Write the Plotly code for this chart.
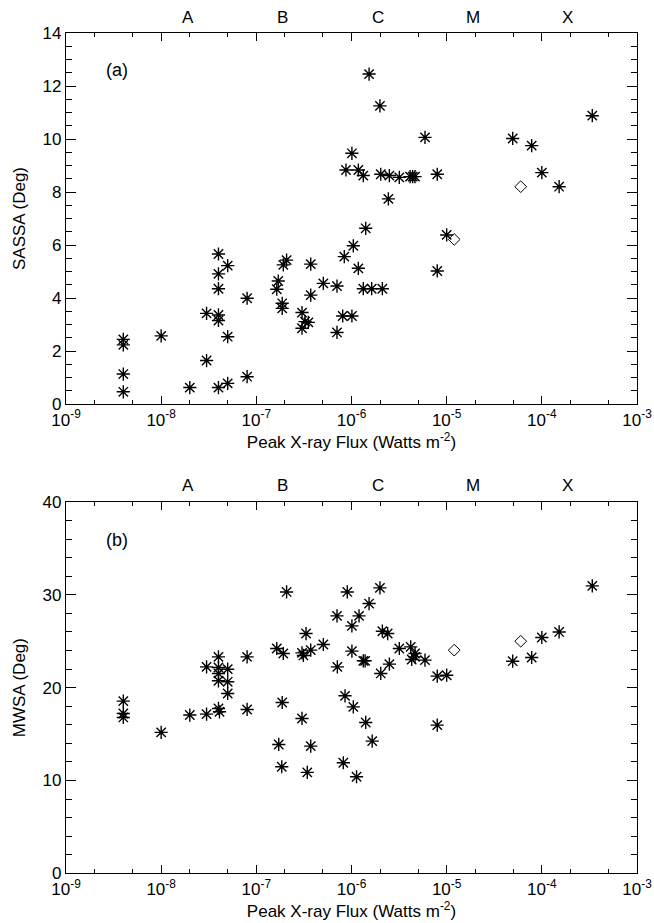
import math
import plotly.graph_objects as go

# ---------------- data ----------------
# Panel (a): SASSA vs peak X-ray flux
sassa_flux = [4e-9, 4e-9, 4e-9, 4e-9, 1e-8, 2e-8, 3e-8, 3e-8, 4e-8, 4e-8,
              4e-8, 4e-8, 4e-8, 4e-8, 5e-8, 5e-8, 5e-8, 8e-8, 8e-8, 1.64e-7,
              1.70e-7, 1.87e-7, 1.87e-7, 1.92e-7, 2.08e-7, 3.02e-7, 3.02e-7, 3.25e-7, 3.52e-7, 3.73e-7,
              3.73e-7, 5.06e-7, 7.04e-7, 7.04e-7, 8.08e-7, 8.4e-7, 8.75e-7, 1.01e-6, 1.01e-6, 1.045e-6,
              1.18e-6, 1.18e-6, 1.33e-6, 1.33e-6, 1.41e-6, 1.53e-6, 1.63e-6, 1.99e-6, 2.03e-6, 2.11e-6,
              2.44e-6, 2.5e-6, 3.18e-6, 4.12e-6, 4.39e-6, 4.65e-6, 5.92e-6, 7.96e-6, 7.96e-6, 1.0e-5,
              4.94e-5, 7.82e-5, 1.0e-4, 1.52e-4, 3.39e-4]
sassa_deg = [2.44, 2.23, 1.13, 0.46, 2.57, 0.62, 1.64, 3.42, 0.62, 3.36,
             3.15, 4.35, 4.91, 5.66, 0.78, 2.54, 5.22, 1.03, 3.99, 4.33,
             4.64, 3.80, 3.61, 5.25, 5.43, 3.45, 2.86, 3.11, 3.08, 5.28,
             4.11, 4.55, 4.45, 2.70, 3.32, 5.56, 8.83, 9.46, 3.32, 5.97,
             8.83, 5.12, 8.62, 4.35, 6.63, 12.45, 4.35, 11.25, 8.67, 4.35,
             7.74, 8.62, 8.55, 8.58, 8.58, 8.58, 10.06, 8.67, 5.02, 6.38,
             10.02, 9.75, 8.73, 8.20, 10.88]
sassa_open_flux = [1.2e-5, 6.0e-5]
sassa_open_deg = [6.21, 8.20]

# Panel (b): MWSA vs peak X-ray flux
mwsa_flux = [4e-9, 4e-9, 4e-9, 1e-8, 2e-8, 3e-8, 3e-8, 4e-8, 4e-8, 4e-8,
             4e-8, 4e-8, 4.1e-8, 5e-8, 5e-8, 5e-8, 8e-8, 8e-8, 1.64e-7, 1.92e-7,
             2.08e-7, 1.87e-7, 1.72e-7, 1.85e-7, 3.02e-7, 3.12e-7, 3.33e-7, 3.73e-7, 3.02e-7, 3.73e-7,
             3.43e-7, 5.06e-7, 7.04e-7, 7.1e-7, 8.55e-7, 8.2e-7, 9.03e-7, 1.01e-6, 1.01e-6, 1.045e-6,
             1.13e-6, 1.2e-6, 1.33e-6, 1.39e-6, 1.41e-6, 1.53e-6, 1.65e-6, 1.99e-6, 2.03e-6, 2.11e-6,
             2.40e-6, 2.5e-6, 3.18e-6, 4.19e-6, 4.29e-6, 4.65e-6, 4.65e-6, 5.92e-6, 7.96e-6, 7.96e-6,
             1.0e-5, 4.94e-5, 7.82e-5, 1.0e-4, 1.52e-4, 3.39e-4]
mwsa_deg = [18.55, 17.22, 16.79, 15.18, 17.05, 22.24, 17.15, 23.32, 22.17, 21.53,
            20.74, 17.76, 17.40, 21.99, 20.63, 19.37, 23.32, 17.65, 24.22, 23.68,
            30.31, 18.40, 13.88, 11.48, 23.75, 23.47, 25.83, 24.04, 16.68, 13.70,
            10.87, 24.65, 27.73, 22.24, 19.12, 11.91, 30.31, 26.65, 23.93, 17.93,
            10.40, 27.73, 22.89, 22.89, 16.25, 29.06, 14.24, 30.75, 21.53, 26.08,
            25.83, 22.53, 24.22, 24.39, 23.03, 23.68, 23.32, 22.96, 21.24, 15.96,
            21.34, 22.85, 23.25, 25.40, 26.00, 30.96]
mwsa_open_flux = [1.2e-5, 6.0e-5]
mwsa_open_deg = [24.04, 25.00]

x_tickvals = [1e-9, 1e-8, 1e-7, 1e-6, 1e-5, 1e-4, 1e-3]
x_ticktext = ["10<sup>-9</sup>", "10<sup>-8</sup>", "10<sup>-7</sup>", "10<sup>-6</sup>",
              "10<sup>-5</sup>", "10<sup>-4</sup>", "10<sup>-3</sup>"]
class_labels = ["A", "B", "C", "M", "X"]
class_pos = [1.9e-8, 1.9e-7, 1.9e-6, 1.9e-5, 1.87e-4]

# ---------------- figure ----------------
W, H = 654, 923
FONT = "Liberation Sans"
FS = 17
fig = go.Figure()

ast = dict(symbol="asterisk-open", size=11, color="black", line=dict(color="black", width=1.4))
dia = dict(symbol="diamond-open", size=9, color="black", line=dict(color="black", width=1))

fig.add_trace(go.Scatter(x=sassa_flux, y=sassa_deg, mode="markers", marker=ast,
                         xaxis="x", yaxis="y", showlegend=False))
fig.add_trace(go.Scatter(x=sassa_open_flux, y=sassa_open_deg, mode="markers", marker=dia,
                         xaxis="x", yaxis="y", showlegend=False))
fig.add_trace(go.Scatter(x=mwsa_flux, y=mwsa_deg, mode="markers", marker=ast,
                         xaxis="x2", yaxis="y2", showlegend=False))
fig.add_trace(go.Scatter(x=mwsa_open_flux, y=mwsa_open_deg, mode="markers", marker=dia,
                         xaxis="x2", yaxis="y2", showlegend=False))

xl, xr = 66 / W, 637 / W


def ydom(top_px, bot_px):
    return [1 - bot_px / H, 1 - top_px / H]


def xaxis_cfg(anchor):
    return dict(type="log", range=[-9, -3], domain=[xl, xr], anchor=anchor, automargin=False,
                tickmode="array", tickvals=x_tickvals, ticktext=x_ticktext,
                ticks="inside", ticklen=8, tickwidth=1.2, tickcolor="black",
                minor=dict(ticks="inside", ticklen=4, tickwidth=1, tickcolor="black",
                           showgrid=False),
                showline=True, linecolor="black", linewidth=1.3, mirror="ticks",
                showgrid=False, zeroline=False,
                tickfont=dict(family=FONT, size=FS, color="black"),
                title=dict(text="Peak X-ray Flux (Watts m<sup>-2</sup>)",
                           font=dict(family=FONT, size=FS, color="black"), standoff=0))


def yaxis_cfg(anchor, rng, dtick, mdtick, title, dom):
    return dict(range=rng, domain=dom, anchor=anchor, dtick=dtick, tick0=0, automargin=False,
                ticks="inside", ticklen=10, tickwidth=1.2, tickcolor="black",
                minor=dict(ticks="inside", ticklen=6, tickwidth=1, tickcolor="black",
                           dtick=mdtick, showgrid=False),
                showline=True, linecolor="black", linewidth=1.3, mirror="ticks",
                showgrid=False, zeroline=False,
                tickfont=dict(family=FONT, size=FS, color="black"),
                title=dict(text=title, font=dict(family=FONT, size=FS, color="black"),
                           standoff=12))


fig.update_layout(
    width=W, height=H,
    margin=dict(l=0, r=0, t=0, b=0),
    paper_bgcolor="white", plot_bgcolor="white",
    font=dict(family=FONT, size=FS, color="black"),
    xaxis=xaxis_cfg("y"),
    yaxis=yaxis_cfg("x", [0, 14], 2, 0.5, "SASSA (Deg)", ydom(33, 404)),
    xaxis2=xaxis_cfg("y2"),
    yaxis2=yaxis_cfg("x2", [0, 40], 10, 2, "MWSA (Deg)", ydom(502, 873.3)),
)

annotations = []
for lab, pos in zip(class_labels, class_pos):
    for xr_, ypx in (("x", 17), ("x2", 485)):
        annotations.append(dict(text=lab, x=math.log10(pos), xref=xr_, xanchor="center",
                                y=1 - ypx / H, yref="paper", yanchor="middle", showarrow=False,
                                font=dict(family=FONT, size=FS, color="black")))
annotations.append(dict(text="(a)", x=117 / W, y=1 - 70 / H, xref="paper", yref="paper",
                        xanchor="center", yanchor="middle",
                        showarrow=False, font=dict(family=FONT, size=18, color="black")))
annotations.append(dict(text="(b)", x=117 / W, y=1 - 540 / H, xref="paper", yref="paper",
                        xanchor="center", yanchor="middle",
                        showarrow=False, font=dict(family=FONT, size=18, color="black")))
fig.update_layout(annotations=annotations)

fig.write_html("out.html")
